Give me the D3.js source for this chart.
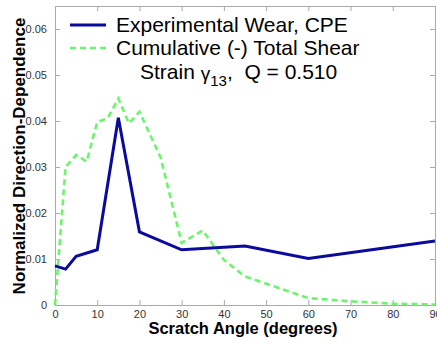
<!DOCTYPE html>
<html>
<head>
<meta charset="utf-8">
<script src="https://cdn.jsdelivr.net/npm/d3@7"></script>
<style>
  html, body { margin: 0; padding: 0; background: #fff; }
  svg { display: block; font-family: Arial, "Liberation Sans", sans-serif; }
</style>
</head>
<body>
<svg id="chart" width="437" height="346"></svg>
<script>
// Scratch angle (degrees) and normalized direction-dependence values
const wearAngles = [0, 2.5, 5, 10, 15, 20, 30, 45, 60, 90];
const wearValues = [0.0085, 0.0078, 0.0106, 0.0120, 0.0407, 0.0159, 0.0120, 0.0128, 0.0101, 0.0139];

const shearAngles = [0, 2.5, 5, 7.5, 10, 12.5, 15, 17.5, 20, 25, 30, 35, 40, 45, 60, 70, 80, 90];
const shearValues = [0, 0.0300, 0.0326, 0.0312, 0.0398, 0.0406, 0.0449, 0.0395, 0.0420, 0.0321, 0.0135, 0.0162, 0.0098, 0.0062, 0.0015, 0.0008, 0.0003, 0.0001];

const xTicks = [0, 10, 20, 30, 40, 50, 60, 70, 80, 90];
const yTicks = [0, 0.01, 0.02, 0.03, 0.04, 0.05, 0.06];
const yTickLabels = ["0", "0.01", "0.02", "0.03", "0.04", "0.05", "0.06"];

const legendLabels = ["Experimental Wear, CPE", "Cumulative (-) Total Shear"];

const svg = d3.select("#chart");
const margin = { left: 55, right: 2, top: 6, bottom: 41 };
const W = 437, H = 346;

const x = d3.scaleLinear().domain([0, 90]).range([margin.left, W - margin.right]);
const y = d3.scaleLinear().domain([0, 0.065]).range([H - margin.bottom, margin.top]);

const tickColor = "#aaa";
const labelColor = "#333";
const blue = "#0a0a9c";
const green = "#6cf56c";

// Axes box with inward ticks on all four sides
const axisB = d3.axisBottom(x).tickValues(xTicks).tickSize(-5).tickPadding(5).tickFormat(d3.format("d"));
const axisT = d3.axisTop(x).tickValues(xTicks).tickSize(-5).tickFormat("");
const axisL = d3.axisLeft(y).tickValues(yTicks).tickSize(-5).tickPadding(8).tickFormat((d, i) => yTickLabels[i]);
const axisR = d3.axisRight(y).tickValues(yTicks).tickSize(-5).tickFormat("");

function style(g) {
  g.selectAll("path.domain").attr("stroke", tickColor).attr("stroke-width", 1);
  g.selectAll(".tick line").attr("stroke", tickColor);
  g.selectAll(".tick text").attr("fill", labelColor).style("font-size", "11px")
    .style("font-family", "Arial, 'Liberation Sans', sans-serif");
}

svg.append("g").attr("transform", `translate(0,${y(0)})`).call(axisB).call(style);
svg.append("g").attr("transform", `translate(0,${y(0.065)})`).call(axisT).call(style);
svg.append("g").attr("transform", `translate(${x(0)},0)`).call(axisL).call(style);
svg.append("g").attr("transform", `translate(${x(90)},0)`).call(axisR).call(style);

// Series lines
const line = d3.line().x(d => x(d[0])).y(d => y(d[1]));

svg.append("path")
  .datum(shearAngles.map((a, i) => [a, shearValues[i]]))
  .attr("d", line)
  .attr("fill", "none")
  .attr("stroke", green)
  .attr("stroke-width", 2.6)
  .attr("stroke-dasharray", "6,4");

svg.append("path")
  .datum(wearAngles.map((a, i) => [a, wearValues[i]]))
  .attr("d", line)
  .attr("fill", "none")
  .attr("stroke", blue)
  .attr("stroke-width", 3)
  .attr("stroke-linejoin", "miter");

// Legend
const lg = svg.append("g").style("font-size", "21px").attr("fill", "#000");
lg.append("line").attr("x1", 70).attr("x2", 106).attr("y1", 25).attr("y2", 25)
  .attr("stroke", blue).attr("stroke-width", 3);
lg.append("line").attr("x1", 70).attr("x2", 106).attr("y1", 48).attr("y2", 48)
  .attr("stroke", green).attr("stroke-width", 2.6).attr("stroke-dasharray", "6,4");
lg.append("text").attr("x", 116).attr("y", 32).text(legendLabels[0]);
lg.append("text").attr("x", 116).attr("y", 55).text(legendLabels[1]);
const t3 = lg.append("text").attr("x", 140).attr("y", 79);
t3.append("tspan").text("Strain ");
t3.append("tspan").text("γ").style("font-size", "19px").attr("dy", 1);
t3.append("tspan").attr("dy", 6).style("font-size", "15px").text("13");
t3.append("tspan").attr("dy", -7).text(",\u00a0\u00a0Q = 0.510");

// Axis titles
svg.append("text")
  .attr("x", 243).attr("y", 334)
  .attr("text-anchor", "middle")
  .style("font-size", "16.5px").style("font-weight", "bold")
  .text("Scratch Angle (degrees)");

svg.append("text")
  .attr("transform", "translate(25,156) rotate(-90)")
  .attr("text-anchor", "middle")
  .style("font-size", "17px").style("font-weight", "bold")
  .text("Normalized Direction-Dependence");
</script>
</body>
</html>
